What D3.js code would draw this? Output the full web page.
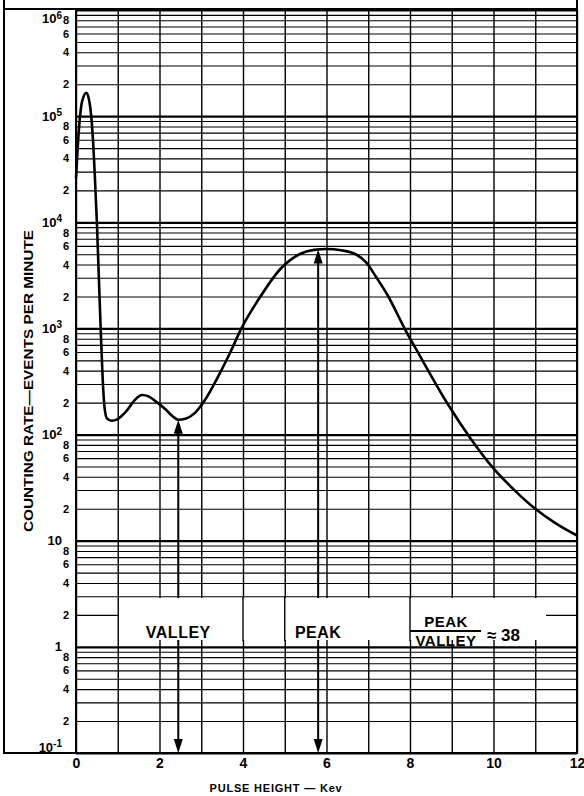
<!DOCTYPE html>
<html>
<head>
<meta charset="utf-8">
<script src="https://cdn.jsdelivr.net/npm/d3@7"></script>
<style>
  html, body { margin: 0; padding: 0; background: #fff; }
  svg { display: block; }
  text { font-family: "Liberation Sans", Arial, sans-serif; font-weight: bold; fill: #000; }
</style>
</head>
<body>
<svg id="chart" width="584" height="796"></svg>
<script>
// ---------- data ----------
const pulseHeight = [0, 0.07, 0.15, 0.25, 0.33, 0.39, 0.45, 0.5, 0.55, 0.6, 0.64, 0.68, 0.74, 0.85, 1.0, 1.2, 1.4, 1.58, 1.75, 1.95, 2.15, 2.32, 2.45, 2.62, 2.85, 3.1, 3.4, 3.7, 3.95, 4.4, 4.9, 5.35, 5.7, 6.0, 6.35, 6.7, 6.95, 7.2, 7.45, 7.9, 8.25, 8.9, 9.45, 10.0, 10.5, 11.0, 11.5, 12.0];
const countRate   = [26000, 75000, 140000, 166000, 130000, 75000, 28000, 10000, 2800, 800, 330, 185, 142, 135, 140, 165, 210, 236, 228, 200, 172, 148, 138, 141, 160, 215, 350, 600, 980, 1950, 3650, 5000, 5500, 5600, 5450, 5000, 4200, 3000, 2100, 950, 540, 195, 92, 48, 30, 20, 14.5, 11.2];
const xTicks = [0, 2, 4, 6, 8, 10, 12];
const xGrid = [0,1,2,3,4,5,6,7,8,9,10,11,12];
const decades = [-1, 0, 1, 2, 3, 4, 5];
const mantissas = [1,2,3,4,5,6,7,8,9];
const minorLabelMantissas = [2, 4, 6, 8];
const decadeLabels = [
  {exp: 6, base: "10", sup: "6"},
  {exp: 5, base: "10", sup: "5"},
  {exp: 4, base: "10", sup: "4"},
  {exp: 3, base: "10", sup: "3"},
  {exp: 2, base: "10", sup: "2"},
  {exp: 1, base: "10", sup: ""},
  {exp: 0, base: "1",  sup: ""},
  {exp: -1, base: "10", sup: "-1"}
];
const valleyX = 2.45, valleyY = 138;
const peakX = 5.8, peakY = 5550;
const xTitle = "PULSE HEIGHT — Kev";
const yTitle = "COUNTING RATE—EVENTS PER MINUTE";

// ---------- layout ----------
const L = 76, R = 577, T = 10, B = 753;
const svg = d3.select("#chart");
const x = d3.scaleLinear().domain([0, 12]).range([L, R]);
const y = d3.scaleLog().domain([0.1, 1e6]).range([B, T]);

// outer frame
svg.append("line").attr("x1", 4).attr("x2", 4).attr("y1", 0).attr("y2", B).attr("stroke", "#000").attr("stroke-width", 2);
svg.append("line").attr("x1", R).attr("x2", R).attr("y1", 0).attr("y2", B).attr("stroke", "#000").attr("stroke-width", 2);
svg.append("line").attr("x1", 3).attr("x2", R + 1).attr("y1", 9).attr("y2", 9).attr("stroke", "#000").attr("stroke-width", 2);
svg.append("line").attr("x1", 3).attr("x2", R + 1).attr("y1", B).attr("y2", B).attr("stroke", "#000").attr("stroke-width", 2);

// horizontal grid via axis
const gridVals = [];
decades.forEach(d => mantissas.forEach(m => gridVals.push(+(m * Math.pow(10, d)).toPrecision(6))));
gridVals.push(1e6);
const hGrid = svg.append("g").attr("transform", `translate(${L},0)`)
  .call(d3.axisLeft(y).tickValues(gridVals).tickSize(-(R - L)).tickFormat(""));
hGrid.select(".domain").remove();
hGrid.selectAll(".tick line").attr("stroke", "#000")
  .attr("stroke-width", d => {
    const lg = Math.log10(d);
    return Math.abs(lg - Math.round(lg)) < 1e-9 ? 2.2 : 1.1;
  });

// vertical grid via axis
const vGrid = svg.append("g").attr("transform", `translate(0,${B})`)
  .call(d3.axisBottom(x).tickValues(xGrid).tickSize(-(B - T)).tickFormat(""));
vGrid.select(".domain").remove();
vGrid.selectAll(".tick line").attr("stroke", "#000").attr("stroke-width", 1.4);

// plot left edge
svg.append("line").attr("x1", L).attr("x2", L).attr("y1", T - 1).attr("y2", B).attr("stroke", "#000").attr("stroke-width", 2);

// x tick labels
const xAx = svg.append("g").attr("transform", `translate(0,${B})`)
  .call(d3.axisBottom(x).tickValues(xTicks).tickSize(0).tickPadding(5).tickFormat(d3.format("d")));
xAx.select(".domain").remove();
xAx.selectAll("text").style("font-family", '"Liberation Sans", Arial, sans-serif')
  .style("font-weight", "bold").style("font-size", "14px").attr("fill", "#000");

// y minor labels
const minorVals = [];
decades.forEach(d => minorLabelMantissas.forEach(m => minorVals.push(+(m * Math.pow(10, d)).toPrecision(6))));
const yAx = svg.append("g").attr("transform", `translate(69,0)`)
  .call(d3.axisLeft(y).tickValues(minorVals).tickSize(0).tickPadding(0)
    .tickFormat(d => String(Math.round(d / Math.pow(10, Math.floor(Math.log10(d) + 1e-9))))));
yAx.select(".domain").remove();
yAx.selectAll("text").style("font-family", '"Liberation Sans", Arial, sans-serif')
  .style("font-weight", "bold").style("font-size", "11px").attr("fill", "#000");

// decade labels
decadeLabels.forEach(dl => {
  let yy = y(Math.pow(10, dl.exp));
  if (dl.exp === 6) yy = y(8.3e5) ;
  if (dl.exp === -1) yy = B - 6;
  const t = svg.append("text").attr("x", 62).attr("y", yy).attr("dy", "0.35em")
    .attr("text-anchor", "end").style("font-size", "13px");
  t.append("tspan").text(dl.base);
  if (dl.sup) t.append("tspan").attr("dy", "-0.45em").style("font-size", "10px").text(dl.sup);
});

// arrows
function arrow(xv, yv) {
  const ax = x(xv), yTop = y(yv);
  svg.append("line").attr("x1", ax).attr("x2", ax).attr("y1", yTop + 6).attr("y2", B - 6)
    .attr("stroke", "#000").attr("stroke-width", 2);
  svg.append("path").attr("d", `M${ax},${yTop} L${ax - 4.5},${yTop + 14} L${ax + 4.5},${yTop + 14} Z`).attr("fill", "#000");
  svg.append("path").attr("d", `M${ax},${B} L${ax - 4.5},${B - 14} L${ax + 4.5},${B - 14} Z`).attr("fill", "#000");
}
arrow(valleyX, valleyY);
arrow(peakX, peakY);

// curve
const pts = pulseHeight.map((p, i) => [p, countRate[i]]);
svg.append("path").datum(pts)
  .attr("d", d3.line().x(d => x(d[0])).y(d => y(d[1])).curve(d3.curveMonotoneX))
  .attr("fill", "none").attr("stroke", "#000").attr("stroke-width", 2.6).attr("stroke-linejoin", "round");

// white label band
svg.append("rect").attr("x", 119).attr("y", 598).attr("width", 546 - 119).attr("height", 42).attr("fill", "#fff");
[4, 5, 8].forEach(v => {
  svg.append("line").attr("x1", x(v)).attr("x2", x(v)).attr("y1", 597).attr("y2", 641)
    .attr("stroke", "#000").attr("stroke-width", 1.4);
});

// annotation labels
svg.append("text").attr("x", x(valleyX)).attr("y", 632).attr("dy", "0.35em").attr("text-anchor", "middle")
  .style("font-size", "16px").style("letter-spacing", "0.5px").text("VALLEY");
svg.append("text").attr("x", x(peakX)).attr("y", 632).attr("dy", "0.35em").attr("text-anchor", "middle")
  .style("font-size", "16px").style("letter-spacing", "0.5px").text("PEAK");
svg.append("text").attr("x", 446).attr("y", 622).attr("dy", "0.35em").attr("text-anchor", "middle")
  .style("font-size", "15px").style("letter-spacing", "0.5px").text("PEAK");
svg.append("line").attr("x1", 410).attr("x2", 481).attr("y1", 631).attr("y2", 631).attr("stroke", "#000").attr("stroke-width", 1.8);
svg.append("text").attr("x", 446).attr("y", 641).attr("dy", "0.35em").attr("text-anchor", "middle")
  .style("font-size", "15px").style("letter-spacing", "0.5px").text("VALLEY");
svg.append("text").attr("x", 487).attr("y", 635).attr("dy", "0.35em").attr("text-anchor", "start")
  .style("font-size", "17px").text("≈ 38");

// axis titles
svg.append("text").attr("x", 276).attr("y", 788).attr("dy", "0.35em").attr("text-anchor", "middle")
  .style("font-size", "11px").style("letter-spacing", "0.8px").text(xTitle);
svg.append("text").attr("transform", `translate(33,381) rotate(-90)`).attr("text-anchor", "middle")
  .style("font-size", "13px").attr("textLength", 302).attr("lengthAdjust", "spacingAndGlyphs").text(yTitle);
</script>
</body>
</html>
